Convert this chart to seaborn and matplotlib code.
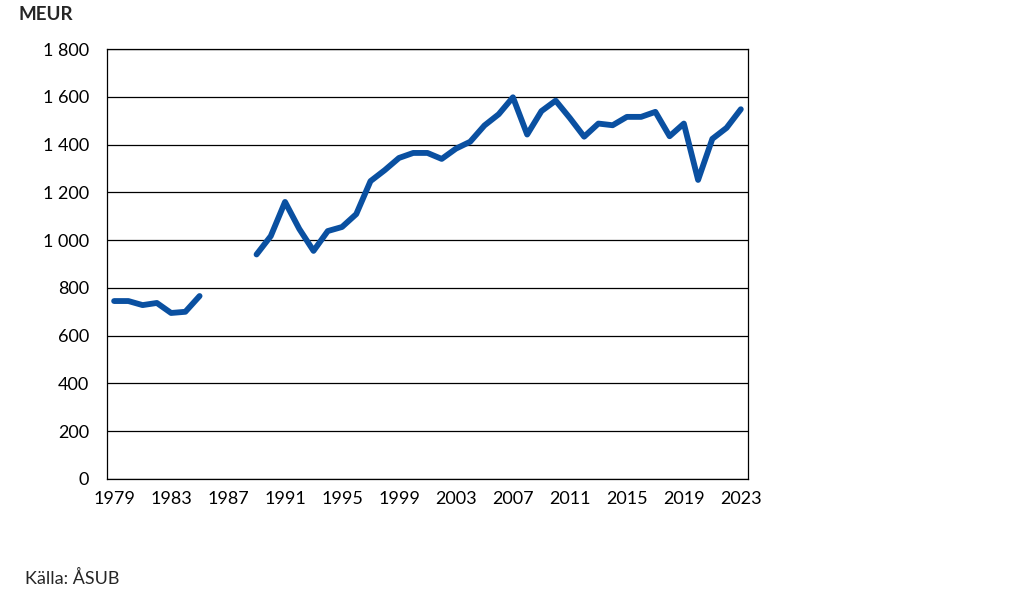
import matplotlib
matplotlib.use("Agg")
import matplotlib.pyplot as plt
from matplotlib.ticker import FuncFormatter
import seaborn as sns
import numpy as np
import pandas as pd

# values (MEUR); 1986-1988 missing
years = list(range(1979, 2024))
values = [745, 745, 728, 737, 695, 700, 766,
          np.nan, np.nan, np.nan,
          940, 1017, 1160, 1047, 955, 1038, 1055, 1109, 1247, 1293,
          1344, 1365, 1365, 1340, 1383, 1412, 1480, 1527, 1598, 1442,
          1540, 1584, 1511, 1433, 1488, 1481, 1516, 1516, 1537, 1435,
          1488, 1252, 1424, 1470, 1548]
xticks = list(range(1979, 2024, 4))
yticks = list(range(0, 1801, 200))

df = pd.DataFrame({"year": years, "value": values})
# split into segments so the gap is kept
df["segment"] = df["value"].isna().cumsum()
df = df.dropna()

sns.set_style("white")
plt.rcParams["font.family"] = ["Lato", "DejaVu Sans"]

fig = plt.figure(figsize=(10.19, 5.98), dpi=100)
ax = fig.add_axes([0.105, 0.199, 0.629, 0.719])

sns.lineplot(data=df, x="year", y="value", units="segment", estimator=None,
             color="#0a50a1", linewidth=4.2, solid_capstyle="round", ax=ax)

ax.set_xlim(1978.5, 2023.5)
ax.set_ylim(0, 1800)
ax.set_xticks(xticks)
ax.set_yticks(yticks)
ax.yaxis.set_major_formatter(FuncFormatter(lambda v, p: f"{int(v):,}".replace(",", " ")))
ax.grid(axis="y", color="black", linewidth=0.9)
ax.set_axisbelow(True)
for s in ax.spines.values():
    s.set_color("black")
    s.set_linewidth(0.9)
ax.tick_params(axis="both", length=0, labelsize=13, colors="black")
ax.tick_params(axis="x", pad=9)
ax.tick_params(axis="y", pad=13)
ax.set_xlabel("")
ax.set_ylabel("")

fig.text(18 / 1019, 1 - 15 / 598, "MEUR", fontsize=13.5, fontweight="bold",
         va="center", ha="left")
fig.text(25 / 1019, 1 - 578 / 598, "Källa: ÅSUB", fontsize=13,
         va="center", ha="left")

fig.savefig("out.png", dpi=100)
